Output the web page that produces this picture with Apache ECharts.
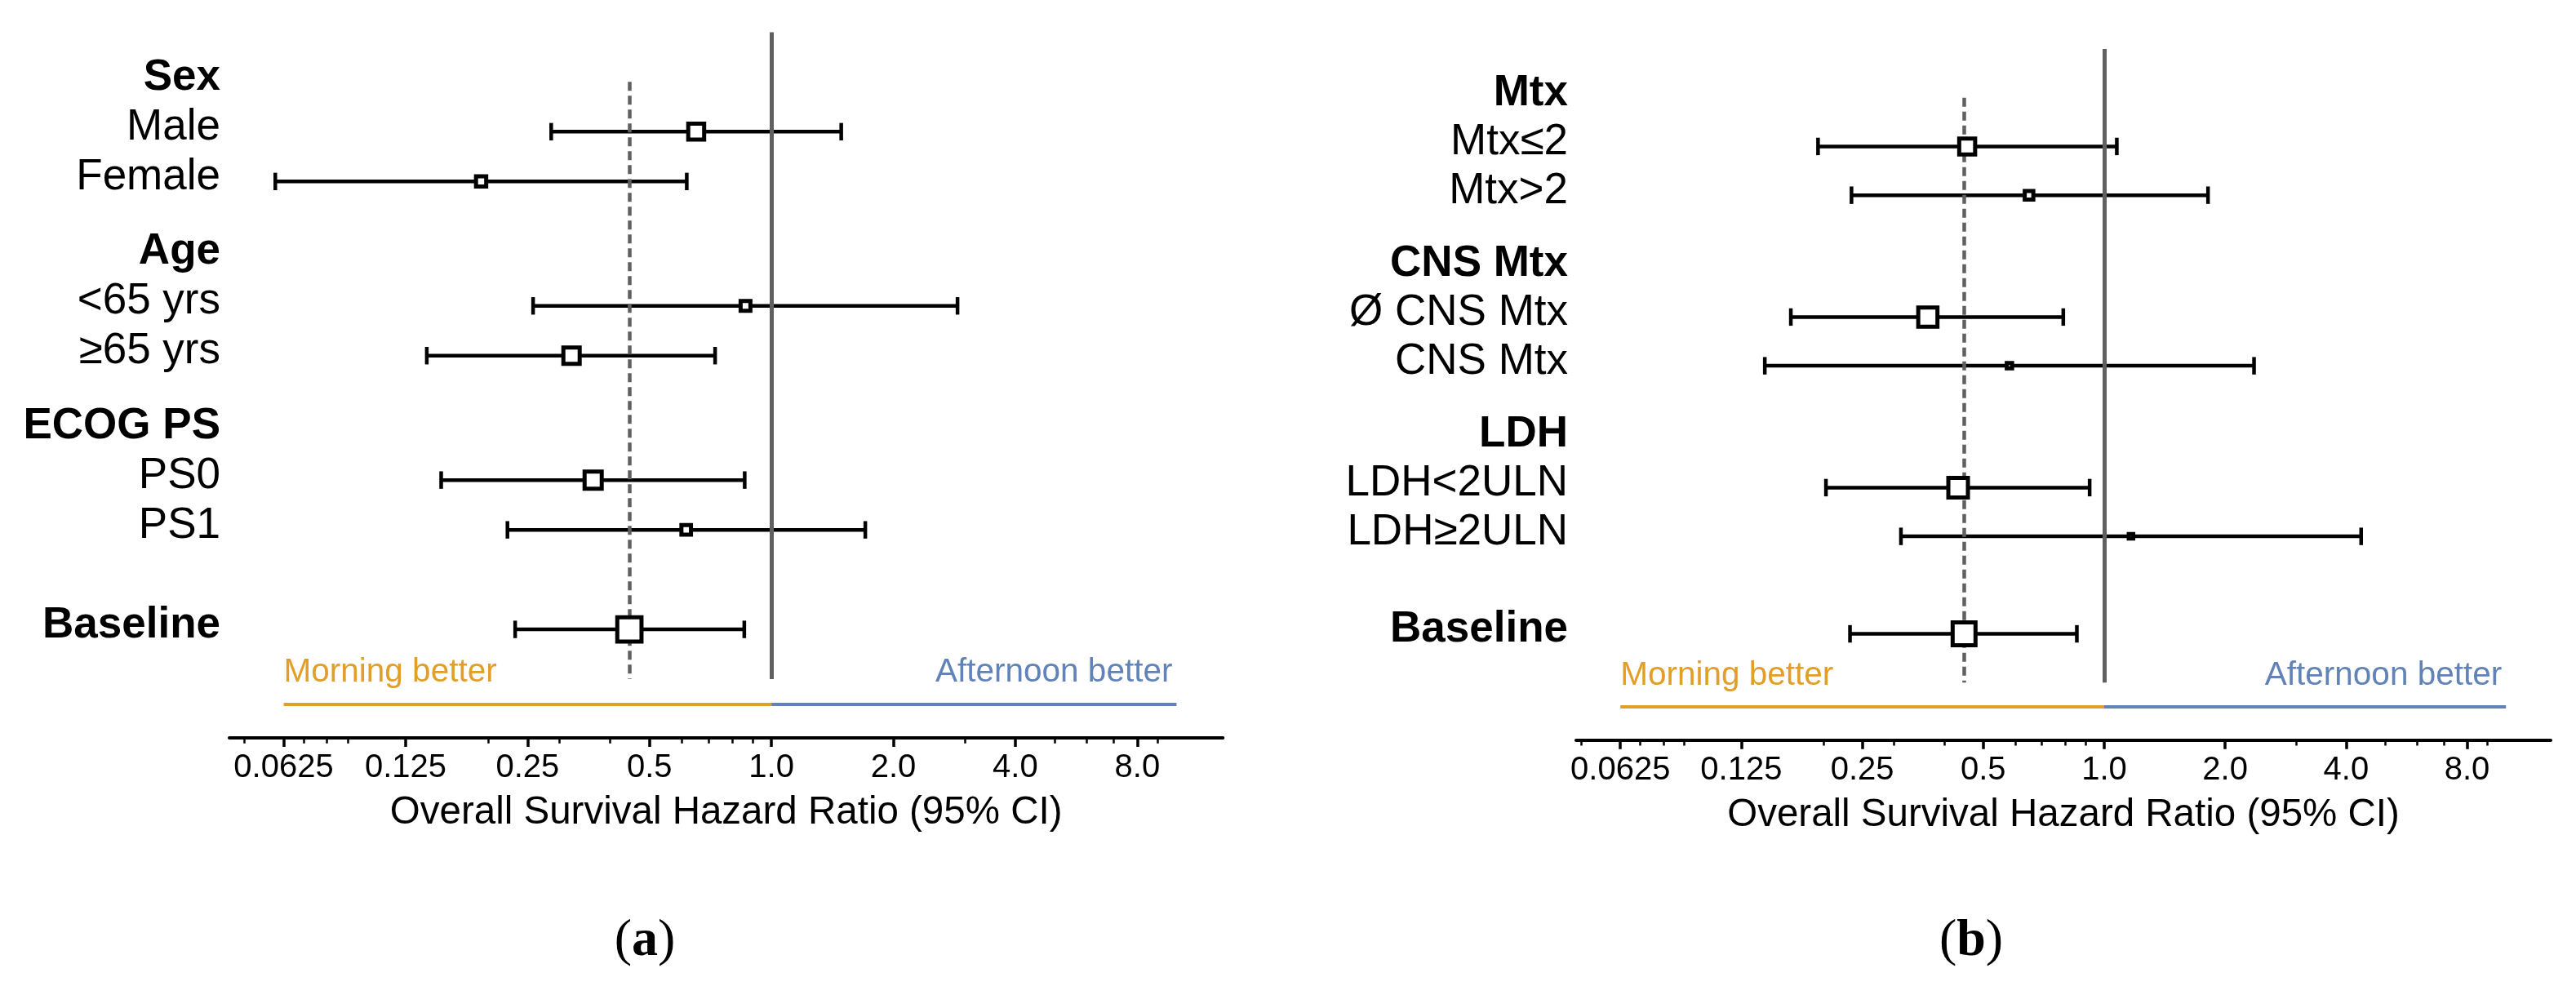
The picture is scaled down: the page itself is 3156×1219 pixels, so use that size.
<!DOCTYPE html>
<html><head><meta charset="utf-8">
<script src="https://cdn.jsdelivr.net/npm/echarts@6/dist/echarts.min.js"></script>
<style>html,body{margin:0;padding:0;background:#fff}#c{width:3156px;height:1219px}</style>
</head><body><div id="c"></div>
<script>
// ---------------- data ----------------
const baselineLabel = 'Baseline';

const groupsA = ['Sex', 'Age', 'ECOG PS'];
const itemsA  = [['Male', 'Female'], ['<65 yrs', '≥65 yrs'], ['PS0', 'PS1']];
const hrA   = [0.652, 0.192, 0.863, 0.321, 0.363, 0.616, 0.446];
const lowA  = [0.286, 0.0596, 0.258, 0.141, 0.153, 0.223, 0.233];
const highA = [1.487, 0.618, 2.88, 0.726, 0.859, 1.705, 0.857];

const groupsB = ['Mtx', 'CNS Mtx', 'LDH'];
const itemsB  = [['Mtx≤2', 'Mtx>2'], ['Ø CNS Mtx', 'CNS Mtx'], ['LDH<2ULN', 'LDH≥2ULN']];
const hrB   = [0.456, 0.650, 0.364, 0.581, 0.433, 1.166, 0.448];
const lowB  = [0.194, 0.235, 0.166, 0.143, 0.203, 0.312, 0.233];
const highB = [1.075, 1.813, 0.791, 2.36, 0.920, 4.36, 0.855];

const tickValues = [0.0625, 0.125, 0.25, 0.5, 1, 2, 4, 8];
const tickLabels = ['0.0625', '0.125', '0.25', '0.5', '1.0', '2.0', '4.0', '8.0'];
const minorTickValues = [0.05, 0.07, 0.08, 0.09, 0.2, 0.3, 0.4, 0.6, 0.7, 0.8, 0.9, 3, 5, 6, 7, 9];
const axisTitle = 'Overall Survival Hazard Ratio (95% CI)';
const morningText = 'Morning better';
const afternoonText = 'Afternoon better';
const morningRange = [0.0625, 1];
const afternoonRange = [1, 10];
const nullHR = 1;
const captions = ['a', 'b'];

// ---------------- styles / layout ----------------
const FONT = '"Liberation Sans", Arial, Helvetica, sans-serif';
const SERIF = '"Liberation Serif", "Times New Roman", serif';
const ORANGE = '#E19F2A';
const BLUE = '#6183B8';
const REF = '#606060';
const markerPxA = [19.5, 12.5, 12, 20, 21, 11.7, 29.7];
const markerPxB = [19.5, 10.5, 23.5, 6.5, 24, 5.5, 28];
const Y_MIN = -2, Y_MAX = 12.18;

const panelLayouts = [
  { left: 281, width: 1217.3, top: 39.4, height: 864.6, xmin: 0.0459, xmax: 13.02, labelMargin: 11, capX: 790 },
  { left: 1931, width: 1194, top: 60, height: 846.7, xmin: 0.0485, xmax: 12.92, labelMargin: 10, capX: 2415 }
];

function layoutRows(groups, items) {
  const labels = [];
  const itemPos = [];
  let p = -1;
  groups.forEach((g, gi) => {
    labels.push({ pos: p, text: g, bold: true });
    items[gi].forEach((it, k) => {
      labels.push({ pos: p + 1 + k, text: it, bold: false });
      itemPos.push(p + 1 + k);
    });
    p += items[gi].length + 1.5;
  });
  const bp = itemPos[itemPos.length - 1] + 2;
  labels.push({ pos: bp, text: baselineLabel, bold: true });
  itemPos.push(bp);
  return { labels, itemPos };
}

function tickLabelFor(v) {
  for (let i = 0; i < tickValues.length; i++) {
    if (Math.abs(v - tickValues[i]) < tickValues[i] * 1e-6) return tickLabels[i];
  }
  return '';
}

const panelData = [
  { groups: groupsA, items: itemsA, hr: hrA, low: lowA, high: highA, sizes: markerPxA },
  { groups: groupsB, items: itemsB, hr: hrB, low: lowB, high: highB, sizes: markerPxB }
];

const grid = [], xAxis = [], yAxis = [], series = [];

panelData.forEach((pd, i) => {
  const L = panelLayouts[i];
  const rows = layoutRows(pd.groups, pd.items);
  const labelMap = {};
  rows.labels.forEach(r => { labelMap[r.pos.toFixed(2)] = r; });
  const baseHR = pd.hr[pd.hr.length - 1];

  grid.push({ left: L.left, top: L.top, width: L.width, height: L.height, containLabel: false, outerBoundsMode: 'none' });

  // major axis
  xAxis.push({
    type: 'log', logBase: 2, gridIndex: i, min: L.xmin, max: L.xmax, position: 'bottom',
    axisLine: { show: true, onZero: false, lineStyle: { color: '#000', width: 4 } },
    axisTick: { show: true, customValues: tickValues, length: 11, lineStyle: { color: '#000', width: 3.5 } },
    axisLabel: { show: true, customValues: tickValues, formatter: v => tickLabelFor(v), margin: 17,
      fontSize: 40, color: '#000', fontFamily: FONT },
    splitLine: { show: false }, minorTick: { show: false }, minorSplitLine: { show: false },
    name: axisTitle, nameLocation: 'middle', nameGap: 68,
    nameTextStyle: { fontSize: 47.5, color: '#000', fontFamily: FONT }
  });
  // minor ticks axis
  xAxis.push({
    type: 'log', logBase: 2, gridIndex: i, min: L.xmin, max: L.xmax, position: 'bottom',
    axisLine: { show: false, onZero: false },
    axisTick: { show: true, customValues: minorTickValues, length: 6.7, lineStyle: { color: '#000', width: 2.5 } },
    axisLabel: { show: false },
    splitLine: { show: false }, minorTick: { show: false }
  });

  yAxis.push({
    type: 'value', gridIndex: i, inverse: true, min: Y_MIN, max: Y_MAX,
    axisLine: { show: false }, axisTick: { show: false }, splitLine: { show: false },
    axisLabel: {
      show: true,
      customValues: rows.labels.map(r => r.pos),
      formatter: v => {
        const r = labelMap[Number(v).toFixed(2)];
        if (!r) return '';
        return r.bold ? '{b|' + r.text + '}' : '{n|' + r.text + '}';
      },
      margin: L.labelMargin, padding: [0, 0, 10, 0],
      fontSize: 53, color: '#000', fontFamily: FONT,
      rich: {
        b: { fontSize: 53, fontWeight: 'bold', color: '#000', fontFamily: FONT },
        n: { fontSize: 53, fontWeight: 'normal', color: '#000', fontFamily: FONT }
      }
    }
  });

  // error bars
  series.push({
    type: 'custom', xAxisIndex: 2 * i, yAxisIndex: i, z: 2, silent: true, animation: false,
    data: pd.hr.map((_, k) => [pd.low[k], pd.high[k], rows.itemPos[k]]),
    encode: { x: [0, 1], y: 2 },
    renderItem: (params, api) => {
      const y = api.value(2);
      const a = api.coord([api.value(0), y]);
      const b = api.coord([api.value(1), y]);
      const h = 10.7;
      const st = { stroke: '#000', lineWidth: 4.5, fill: null };
      return {
        type: 'group', children: [
          { type: 'line', shape: { x1: a[0], y1: a[1], x2: b[0], y2: b[1] }, style: st },
          { type: 'line', shape: { x1: a[0], y1: a[1] - h, x2: a[0], y2: a[1] + h }, style: st },
          { type: 'line', shape: { x1: b[0], y1: b[1] - h, x2: b[0], y2: b[1] + h }, style: st }
        ]
      };
    }
  });

  // HR markers + reference lines
  series.push({
    type: 'scatter', xAxisIndex: 2 * i, yAxisIndex: i, z: 10, silent: true, animation: false,
    symbol: 'rect',
    symbolSize: (val, params) => pd.sizes[params.dataIndex],
    itemStyle: { color: '#fff', borderColor: '#000', borderWidth: 5, opacity: 1 },
    data: pd.hr.map((v, k) => [v, rows.itemPos[k]]),
    markLine: {
      silent: true, animation: false, symbol: ['none', 'none'], z: 5,
      data: [
        [{ coord: [nullHR, -2], lineStyle: { color: REF, width: 5, type: 'solid' }, label: { show: false } },
         { coord: [nullHR, 11] }],
        [{ coord: [baseHR, -1], lineStyle: { color: REF, width: 4.5, type: [11, 6] }, label: { show: false } },
         { coord: [baseHR, 11] }],
        [{ coord: [morningRange[0], 11.5], lineStyle: { color: ORANGE, width: 4, type: 'solid' },
           label: { show: true, formatter: morningText, position: 'insideStartTop', distance: [0, 18],
             color: ORANGE, fontSize: 40.5, fontFamily: FONT } },
         { coord: [morningRange[1], 11.5] }],
        [{ coord: [afternoonRange[0], 11.5], lineStyle: { color: BLUE, width: 4, type: 'solid' },
           label: { show: true, formatter: afternoonText, position: 'insideEndTop', distance: [5, 18],
             color: BLUE, fontSize: 40.5, fontFamily: FONT } },
         { coord: [afternoonRange[1], 11.5] }]
      ]
    }
  });
});

const graphic = captions.map((c, i) => ({
  type: 'text', x: panelLayouts[i].capX, y: 1153, silent: true,
  style: {
    text: '({b|' + c + '})',
    fontSize: 64, fontFamily: SERIF, fill: '#000', align: 'center', verticalAlign: 'middle',
    rich: { b: { fontSize: 64, fontFamily: SERIF, fontWeight: 'bold', fill: '#000' } }
  }
}));

const chart = echarts.init(document.getElementById('c'), null, { renderer: 'canvas' });
chart.setOption({
  backgroundColor: '#fff',
  animation: false,
  grid, xAxis, yAxis, series, graphic
});
</script></body></html>
